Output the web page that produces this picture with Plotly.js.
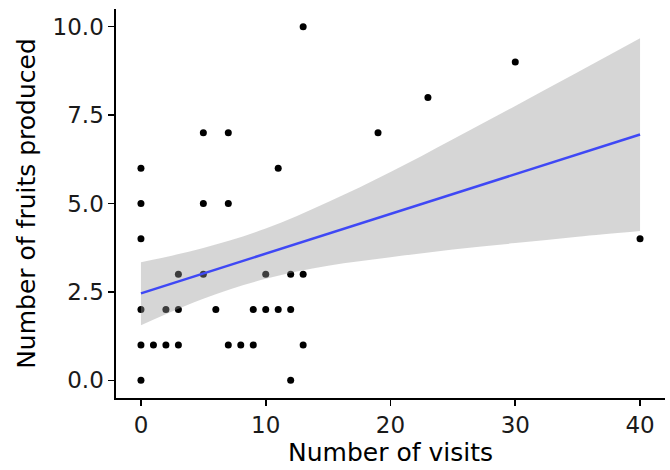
<!DOCTYPE html>
<html>
<head>
<meta charset="utf-8">
<script src="https://cdn.plot.ly/plotly-3.0.1.min.js"></script>
<style>
  html, body { margin: 0; padding: 0; background: #ffffff; }
  #chart { width: 670px; height: 470px; }
</style>
</head>
<body>
<div id="chart"></div>
<script>
// Observed data: number of visits vs number of fruits produced
const visits = [0,0,0,0,0,0,1,2,2,3,3,3,5,5,5,6,7,7,7,8,9,9,10,10,11,11,12,12,12,13,13,13,19,23,30,40];
const fruits = [6,5,4,2,1,0,1,2,1,3,2,1,7,5,3,2,7,5,1,1,2,1,3,2,6,2,3,2,0,10,3,1,7,8,9,4];

// Linear fit and its confidence band
const fitX     = [0, 5, 10, 15, 20, 25, 30, 35, 40];
const fitY     = [2.46, 3.02, 3.58, 4.14, 4.70, 5.26, 5.82, 6.38, 6.95];
const fitUpper = [3.34, 3.74, 4.29, 5.04, 5.89, 6.82, 7.76, 8.71, 9.67];
const fitLower = [1.56, 2.31, 2.87, 3.24, 3.48, 3.70, 3.88, 4.06, 4.22];

const xTicks = [0, 10, 20, 30, 40];
const yTicks = [0, 2.5, 5, 7.5, 10];
const yTickText = ["0.0", "2.5", "5.0", "7.5", "10.0"];

const xTitle = "Number of visits";
const yTitle = "Number of fruits produced";

const FONT = "DejaVu Sans, Liberation Sans, Arial, sans-serif";

const traces = [
  {
    x: visits, y: fruits, type: "scatter", mode: "markers",
    marker: { color: "#000000", size: 7, line: { width: 0 } },
    hoverinfo: "skip", showlegend: false
  },
  {
    x: fitX, y: fitLower, type: "scatter", mode: "lines",
    line: { width: 0, shape: "spline", smoothing: 1, color: "rgba(0,0,0,0)" },
    hoverinfo: "skip", showlegend: false
  },
  {
    x: fitX, y: fitUpper, type: "scatter", mode: "lines",
    line: { width: 0, shape: "spline", smoothing: 1, color: "rgba(0,0,0,0)" },
    fill: "tonexty", fillcolor: "rgba(153,153,153,0.4)",
    hoverinfo: "skip", showlegend: false
  },
  {
    x: fitX, y: fitY, type: "scatter", mode: "lines",
    line: { width: 2.5, color: "#3F48F5" },
    hoverinfo: "skip", showlegend: false
  }
];

const axisCommon = {
  showgrid: false, zeroline: false,
  showline: true, linecolor: "#000000", linewidth: 1.6,
  ticks: "outside", ticklen: 6, tickwidth: 1.6, tickcolor: "#000000",
  tickfont: { family: FONT, size: 23, color: "#1a1a1a" },
  mirror: false
};

const layout = {
  width: 670, height: 470,
  margin: { l: 116, r: 5, t: 9, b: 72 },
  paper_bgcolor: "#ffffff", plot_bgcolor: "#ffffff",
  showlegend: false,
  xaxis: Object.assign({}, axisCommon, {
    range: [-2, 42],
    tickmode: "array", tickvals: xTicks,
    title: { text: xTitle, font: { family: FONT, size: 25, color: "#000000" }, standoff: 6 }
  }),
  yaxis: Object.assign({}, axisCommon, {
    range: [-0.5, 10.5],
    tickmode: "array", tickvals: yTicks, ticktext: yTickText,
    title: { text: yTitle, font: { family: FONT, size: 25, color: "#000000" }, standoff: 10 }
  })
};

Plotly.newPlot("chart", traces, layout, { staticPlot: true, displayModeBar: false });
</script>
</body>
</html>
